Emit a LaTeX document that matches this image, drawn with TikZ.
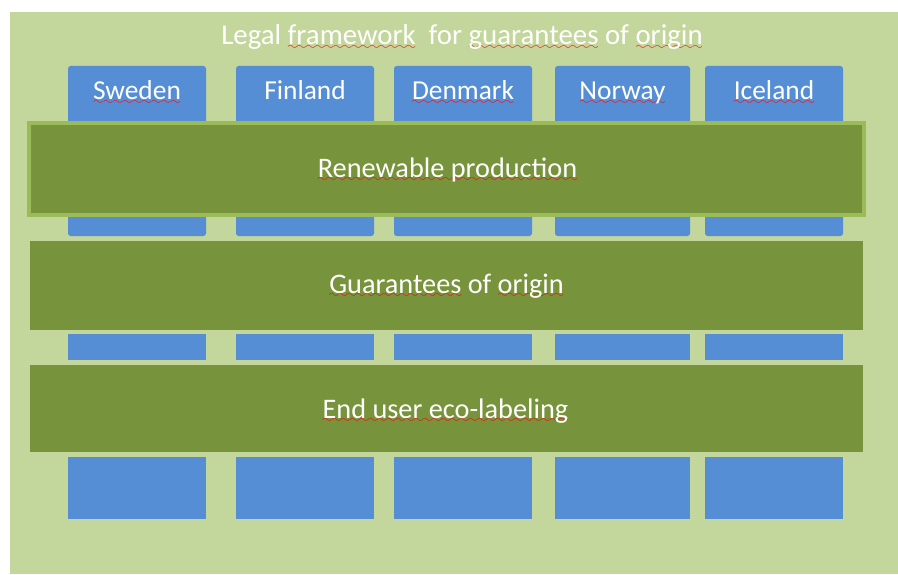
\documentclass[tikz,border=0pt]{standalone}
\usepackage{fontspec}
\setmainfont{Carlito}
\usepackage{xcolor}
\definecolor{bgolive}{HTML}{C3D69B}
\definecolor{barolive}{HTML}{77933C}
\definecolor{edgeolive}{HTML}{9BBB59}
\definecolor{colblue}{HTML}{558ED5}
\font\spellwavefont=lasy6 at 6pt
\newcommand\spellerr[1]{\setbox0\hbox{#1}\rlap{\lower2.4pt\hbox to\wd0{\color{red}\xleaders\hbox{\spellwavefont\char58}\hfil}}\box0\relax}

\begin{document}
\begin{tikzpicture}[x=0.02cm, y=-0.02cm,
    lbl/.style={text=white, inner sep=0pt, anchor=base, font=\fontsize{15.6}{19}\selectfont},
    barlbl/.style={lbl, font=\fontsize{16.1}{19}\selectfont}]
        \useasboundingbox (0,0) rectangle (898,574);
        % background panel
        \fill[bgolive] (10,12) rectangle (898,574);
        \node[lbl, font=\fontsize{16.4}{19}\selectfont] (title) at (462,45) {Legal \spellerr{framework}\ \ for \spellerr{guarantees} of \spellerr{origin}};
        % country columns
        \foreach \xl/\xr/\country [count=\i] in {68/206/{\spellerr{Sweden}}, 236/374/{Finland}, 394/532/{\spellerr{Denmark}}, 555/690/{\spellerr{Norway}}, 705/843/{\spellerr{Iceland}}}
        {
            \fill[colblue, rounded corners=1.5pt] (\xl,66) rectangle (\xr,236);
            \fill[colblue] (\xl,334) rectangle (\xr,360);
            \fill[colblue] (\xl,457) rectangle (\xr,519);
            \node[lbl] (country\i) at ({(\xl+\xr)/2},100) {\country};
        }
        % layers
        \fill[barolive] (27,121) rectangle (866,217);
        \draw[edgeolive, line width=2.2pt] (29,123) rectangle (864,215);
        \node[barlbl] (renew) at (447.5,177) {\spellerr{Renewable production}};
        \fill[barolive] (30,241) rectangle (863,330);
        \node[barlbl] (guar) at (446.5,293) {\spellerr{Guarantees} of \spellerr{origin}};
        \fill[barolive] (30,365) rectangle (863,452);
        \node[barlbl] (ecolabel) at (445.5,418) {\spellerr{End user eco-labeling}};
\end{tikzpicture}
\end{document}
